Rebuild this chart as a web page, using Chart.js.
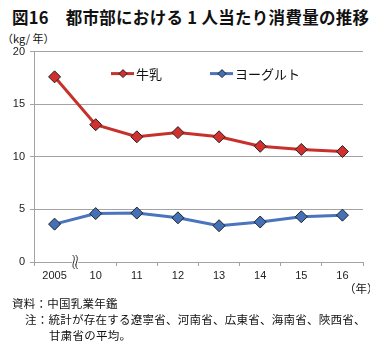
<!DOCTYPE html>
<html lang="ja">
<head>
<meta charset="utf-8">
<script src="https://cdn.jsdelivr.net/npm/chart.js@4"></script>
<style>
  body { margin: 0; background: #fff; font-family: "Noto Sans CJK JP", sans-serif; color: #111; }
  #wrap { position: relative; width: 370px; height: 346px; overflow: hidden; }
  .txt { position: absolute; white-space: nowrap; }
  #title { left: 12px; top: 5px; font-size: 16.5px; font-weight: bold; letter-spacing: 0.3px; }
  #unit { left: 2px; top: 30px; font-size: 11px; }
  #unitx { left: 344px; top: 280px; font-size: 11.5px; }
  .note { font-size: 11.5px; letter-spacing: 0.25px; }
  #box { position: absolute; left: 0; top: 40px; width: 370px; height: 256px; }
</style>
</head>
<body>
<div id="wrap">
  <div id="title" class="txt">図16　都市部における 1 人当たり消費量の推移</div>
  <div id="unit" class="txt">（kg/ 年）</div>
  <div id="box"><canvas id="chart"></canvas></div>
  <div id="unitx" class="txt">（年）</div>
  <div class="txt note" style="left:12px; top:295px;">資料：中国乳業年鑑</div>
  <div class="txt note" style="left:25px; top:311px;">注：統計が存在する遼寧省、河南省、広東省、海南省、陝西省、</div>
  <div class="txt note" style="left:49px; top:327px;">甘粛省の平均。</div>
</div>
<script>
// 年次ラベル
const years = ['2005', '10', '11', '12', '13', '14', '15', '16'];
// 牛乳 (kg/年)
const milk = [17.6, 13.05, 11.9, 12.3, 11.9, 11.0, 10.7, 10.5];
// ヨーグルト (kg/年)
const yogurt = [3.6, 4.6, 4.65, 4.2, 3.45, 3.8, 4.3, 4.45];
const yTicks = [0, 5, 10, 15, 20];

const gridColor = '#a3a3a3';
const tickFont = { family: '"Liberation Sans", Arial, sans-serif', size: 11 };

// 凡例をプロット内に描く
const insideLegend = {
  id: 'insideLegend',
  afterDraw(chart) {
    const ctx = chart.ctx;
    const area = chart.chartArea;
    const y = area.top + 22;
    const items = [
      { ds: chart.data.datasets[0], x: area.left + 77 },
      { ds: chart.data.datasets[1], x: area.left + 176 }
    ];
    ctx.save();
    items.forEach(item => {
      ctx.strokeStyle = item.ds.borderColor;
      ctx.lineWidth = 3;
      ctx.beginPath();
      ctx.moveTo(item.x, y);
      ctx.lineTo(item.x + 23, y);
      ctx.stroke();
      const cx = item.x + 12;
      ctx.fillStyle = item.ds.pointBackgroundColor;
      ctx.strokeStyle = '#222';
      ctx.lineWidth = 1;
      ctx.beginPath();
      ctx.moveTo(cx, y - 4);
      ctx.lineTo(cx + 4, y);
      ctx.lineTo(cx, y + 4);
      ctx.lineTo(cx - 4, y);
      ctx.closePath();
      ctx.fill();
      ctx.stroke();
      ctx.fillStyle = '#111';
      ctx.font = '13px "Noto Sans CJK JP", sans-serif';
      ctx.textBaseline = 'middle';
      ctx.fillText(item.ds.label, item.x + 25, y);
    });
    ctx.restore();
  }
};

// x軸の省略記号
const axisBreak = {
  id: 'axisBreak',
  afterDraw(chart) {
    const ctx = chart.ctx;
    const xs = chart.scales.x;
    const bx = (xs.getPixelForValue(0) + xs.getPixelForValue(1)) / 2;
    const by = chart.chartArea.bottom;
    ctx.save();
    ctx.fillStyle = '#fff';
    ctx.fillRect(bx - 3, by - 2, 6, 4);
    ctx.strokeStyle = '#333';
    ctx.lineWidth = 1;
    [-1.5, 1.5].forEach(dx => {
      ctx.beginPath();
      ctx.moveTo(bx + dx - 1, by - 7);
      ctx.bezierCurveTo(bx + dx + 4, by - 3, bx + dx - 4, by + 3, bx + dx + 1, by + 7);
      ctx.stroke();
    });
    ctx.restore();
  }
};

new Chart(document.getElementById('chart'), {
  type: 'line',
  data: {
    labels: years,
    datasets: [
      {
        label: '牛乳',
        data: milk,
        borderColor: '#c7312c',
        pointBackgroundColor: '#d2302e',
        pointBorderColor: '#222',
        pointBorderWidth: 1,
        pointStyle: 'rectRot',
        pointRadius: 6,
        borderWidth: 3,
        tension: 0
      },
      {
        label: 'ヨーグルト',
        data: yogurt,
        borderColor: '#4a74bd',
        pointBackgroundColor: '#4470b8',
        pointBorderColor: '#222',
        pointBorderWidth: 1,
        pointStyle: 'rectRot',
        pointRadius: 6,
        borderWidth: 3,
        tension: 0
      }
    ]
  },
  options: {
    responsive: true,
    maintainAspectRatio: false,
    animation: false,
    layout: { padding: { top: 10, right: 2, left: 0, bottom: 0 } },
    plugins: {
      legend: { display: false },
      tooltip: { enabled: false }
    },
    scales: {
      x: {
        offset: true,
        grid: { drawOnChartArea: false, offset: true, tickLength: 4, color: gridColor },
        border: { color: gridColor, width: 1 },
        ticks: { color: '#222', font: tickFont, padding: 3, maxRotation: 0 },
        afterFit(scale) { scale.height = 34; }
      },
      y: {
        min: 0,
        max: 20,
        afterBuildTicks(scale) { scale.ticks = yTicks.map(v => ({ value: v })); },
        grid: { color: gridColor, tickLength: 4 },
        border: { color: gridColor, width: 1 },
        ticks: { color: '#222', font: tickFont, padding: 5 },
        afterFit(scale) { scale.width = 34; }
      }
    }
  },
  plugins: [insideLegend, axisBreak]
});
</script>
</body>
</html>
